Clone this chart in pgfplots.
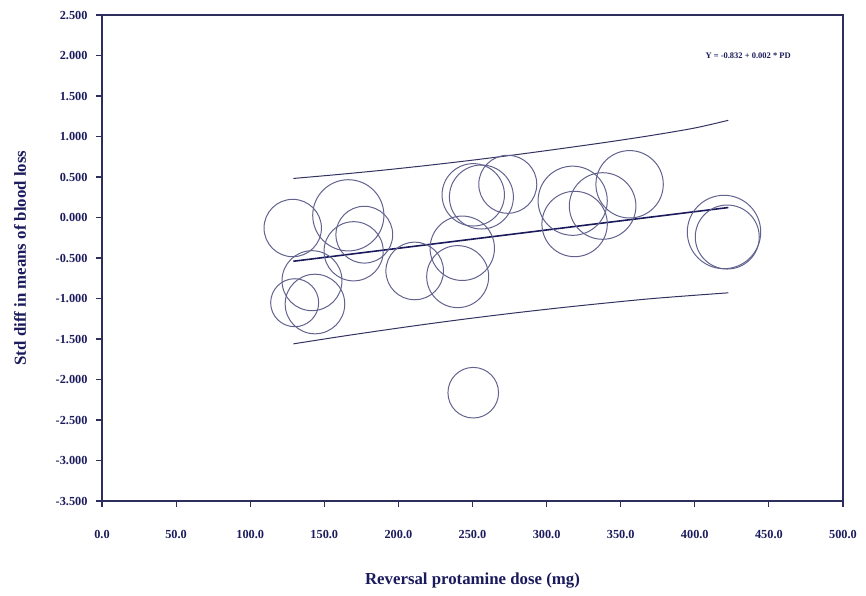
\documentclass[border=0pt]{standalone}
\usepackage{fontspec}
\setmainfont{Liberation Serif}
\usepackage{pgfplots}
\pgfplotsset{compat=1.18}

\definecolor{navy}{HTML}{1A1A5C}
\definecolor{axiscol}{HTML}{2E2E5C}
\definecolor{circ}{HTML}{62628E}
\definecolor{band}{HTML}{33335F}

\begin{document}
\begin{tikzpicture}
\begin{axis}[
  name=ax,
  scale only axis,
  width=741pt, height=486pt,
  xmin=0, xmax=500, ymin=-3.5, ymax=2.5,
  xtick={0,50,...,500},
  ytick={-3.5,-3,...,2.5},
  tick align=outside,
  xtick pos=bottom, ytick pos=left,
  major tick length=6pt,
  axis line style={axiscol, line width=1.3pt},
  tick style={axiscol, line width=1.1pt},
  /pgf/number format/assume math mode=true,
  tick label style={font=\bfseries\fontsize{12.3}{12.3}\selectfont, text=navy},
  xticklabel style={/pgf/number format/.cd, fixed, fixed zerofill, precision=1, 1000 sep={}},
  yticklabel style={/pgf/number format/.cd, fixed, fixed zerofill, precision=3},
  xticklabel shift=20pt,
  yticklabel shift=5pt,
  xlabel={Reversal protamine dose (mg)},
  ylabel={Std diff in means of blood loss},
  label style={font=\bfseries\fontsize{16.8}{17}\selectfont, text=navy},
  xlabel style={at={(axis description cs:0.5,-0.1646)}, anchor=center},
  ylabel style={at={(axis description cs:-0.1107,0.5)}, anchor=center},
]

% upper and lower confidence limits of the regression line
\addplot[band, line width=1pt, smooth] coordinates {
  (129.1,0.482) (160,0.532) (190,0.585) (220,0.644) (250,0.708) (280,0.777)
  (310,0.851) (340,0.928) (370,1.011) (400,1.105) (422.6,1.200)};
\addplot[band, line width=1pt, smooth] coordinates {
  (129.1,-1.560) (160,-1.472) (190,-1.391) (220,-1.314) (250,-1.242) (280,-1.175)
  (310,-1.113) (340,-1.056) (370,-1.003) (400,-0.960) (422.6,-0.930)};

% fitted meta-regression line
\addplot[navy, line width=1.6pt] coordinates {(129.1,-0.540) (422.6,0.123)};

% studies, circle radius proportional to study weight
\addplot[scatter, only marks, mark=o, line width=1pt,
  scatter/use mapped color={draw=circ},
  visualization depends on={\thisrow{r} \as \rad},
  scatter/@pre marker code/.append style={/tikz/mark size=\rad pt}]
  table[x=x, y=y] {
x      y       r
128.7  -0.130  28.7
166.2   0.027  35.6
177.0  -0.212  28.4
169.8  -0.417  29.6
141.7  -0.780  30.0
130.0  -1.052  24.0
143.7  -1.068  29.8
211.0  -0.660  28.8
243.1  -0.380  32.2
240.0  -0.730  31.0
250.5   0.280  31.2
256.0   0.253  32.0
273.8   0.410  29.0
317.6   0.207  34.6
318.9  -0.080  32.7
337.8   0.142  33.3
356.0   0.410  33.7
419.7  -0.179  36.7
421.9  -0.241  32.0
250.5  -2.163  25.3
};

\node[font=\bfseries\fontsize{8.5}{9}\selectfont, text=navy] at (axis cs:436,2.0) {Y = -0.832 + 0.002 * PD};
\end{axis}
\path ([xshift=-102pt,yshift=-94pt]ax.south west) rectangle ([xshift=23pt,yshift=15pt]ax.north east);
\end{tikzpicture}
\end{document}
